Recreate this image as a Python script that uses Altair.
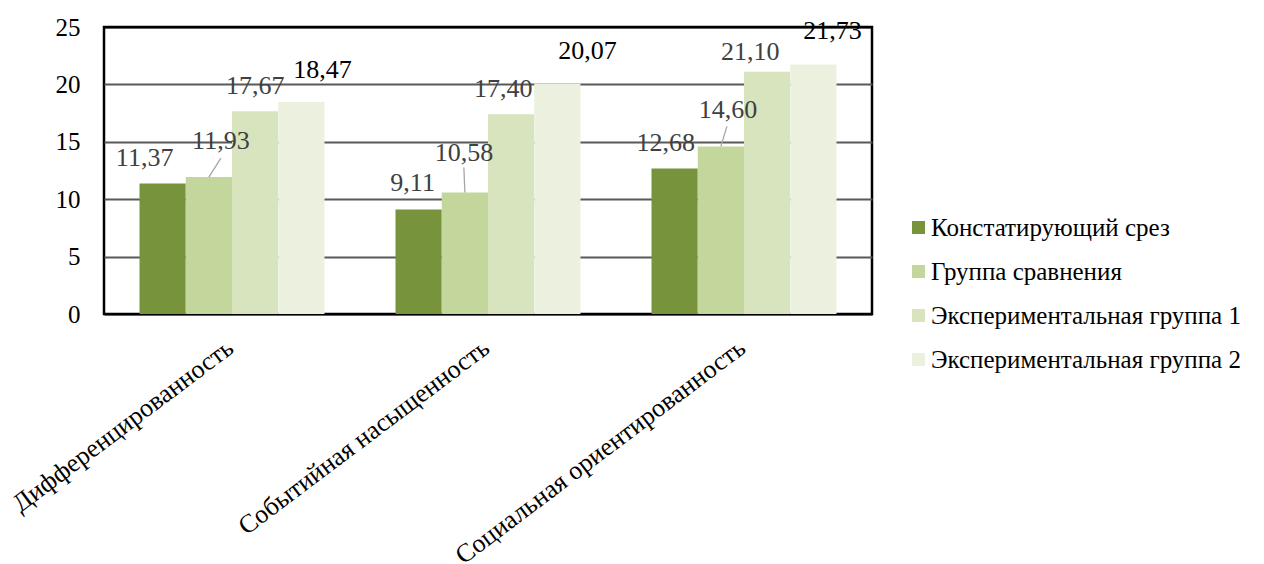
import altair as alt
import pandas as pd

# ---- data ----
categories = ["Дифференцированность", "Событийная насыщенность", "Социальная ориентированность"]
series = ["Констатирующий срез", "Группа сравнения", "Экспериментальная группа 1", "Экспериментальная группа 2"]
konstat = [11.37, 9.11, 12.68]
sravnenie = [11.93, 10.58, 14.60]
exp_group1 = [17.67, 17.40, 21.10]
exp_group2 = [18.47, 20.07, 21.73]

# ---- style / layout ----
colors = ["#77933C", "#C3D69B", "#D7E4BD", "#EBF1DE"]
FONT = "Liberation Serif"
W, H = 768, 287
GROUP_FRAC = 185 / 256
BAR_W = GROUP_FRAC / 4
PX_X = 3 / W      # data units per pixel (x)
PX_Y = 25 / H     # data units per pixel (y)

# per-label pixel offsets (series index -> group index)
label_dx = [[-18, -6, -9], [12, -1, 7], [0, -8, -17], [21, 30, 19]]
label_dy = [[-25, -26, -25], [-36, -40, -36], [-25, -25, -20], [-32, -33, -34]]
# leader lines: (series, group, end dx px, end dy px)
leaders = [(1, 0, 12, -19), (1, 1, -1, -25), (1, 2, 6, -20)]

rows = []
for si, (s, vals) in enumerate(zip(series, [konstat, sravnenie, exp_group1, exp_group2])):
    for gi, (c, v) in enumerate(zip(categories, vals)):
        rows.append({"category": c, "series": s, "value": v, "gi": gi, "si": si,
                     "label": f"{v:.2f}".replace(".", ",")})
df = pd.DataFrame(rows)

cat_array = "[" + ",".join(f"'{c}'" for c in categories) + "]"

xscale = alt.Scale(domain=[0, 3], nice=False, zero=False)
yscale = alt.Scale(domain=[0, 25], nice=False)
xaxis = alt.Axis(values=[0.5, 1.5, 2.5], labelExpr=f"{cat_array}[floor(datum.value)]",
                 title=None, grid=False, ticks=False, domain=False,
                 labelAngle=-37, labelAlign="right", labelBaseline="top",
                 labelPadding=20, labelOffset=-10, labelFont=FONT, labelFontSize=26,
                 labelColor="#000000", labelOverlap=False, labelBound=False, labelLimit=0)
yaxis = alt.Axis(values=[0, 5, 10, 15, 20, 25], title=None, grid=True,
                 gridColor={"condition": {"test": "datum.value == 0 || datum.value == 25",
                                          "value": "#000000"}, "value": "#595959"},
                 gridWidth=2, ticks=False, domain=False,
                 labelPadding=24, labelFont=FONT, labelFontSize=25, labelColor="#000000")

base = alt.Chart(df).transform_calculate(
    pos=f"datum.gi + 0.5 + (datum.si - 1.5) * {BAR_W}",
).transform_calculate(
    x0=f"datum.pos - {BAR_W / 2}",
    x1=f"datum.pos + {BAR_W / 2}",
)

bars = base.mark_bar(strokeWidth=0).encode(
    x=alt.X("x0:Q", scale=xscale, axis=xaxis),
    x2="x1:Q",
    y=alt.Y("value:Q", scale=yscale, axis=yaxis),
    y2=alt.datum(0),
    color=alt.Color("series:N", scale=alt.Scale(domain=series, range=colors),
                    legend=alt.Legend(title=None, orient="none", legendX=802, legendY=188,
                                      symbolType="square", symbolSize=169, symbolStrokeWidth=0,
                                      labelFont=FONT, labelFontSize=25, labelColor="#000000",
                                      rowPadding=18, labelOffset=0, padding=0, labelLimit=400)),
)

layers = [bars]

for (si, gi, ex, ey) in leaders:
    layers.append(
        base.transform_filter(f"datum.si == {si} && datum.gi == {gi}")
        .transform_calculate(lx2=f"datum.pos + {ex * PX_X}", ly2=f"datum.value - {ey * PX_Y}")
        .mark_rule(color="#a6a6a6", strokeWidth=1.3)
        .encode(x=alt.X("pos:Q", scale=xscale, axis=xaxis), x2="lx2:Q",
                y=alt.Y("value:Q", scale=yscale, axis=yaxis), y2="ly2:Q")
    )

for si in range(4):
    for gi in range(3):
        layers.append(
            base.transform_filter(f"datum.si == {si} && datum.gi == {gi}")
            .mark_text(font=FONT, fontSize=26, align="center", baseline="middle",
                       dx=label_dx[si][gi], dy=label_dy[si][gi],
                       color="#000000" if si == 3 else "#404040")
            .encode(x=alt.X("pos:Q", scale=xscale, axis=xaxis),
                    y=alt.Y("value:Q", scale=yscale, axis=yaxis),
                    text="label:N")
        )

chart = alt.layer(*layers).properties(
    width=W, height=H,
    padding={"left": 96, "top": 19, "right": 384, "bottom": 250},
    autosize=alt.AutoSizeParams(type="none"),
).configure_view(stroke="#000000", strokeWidth=2.5)

chart.save("out.html", embed_options={"renderer": "svg", "actions": False})
